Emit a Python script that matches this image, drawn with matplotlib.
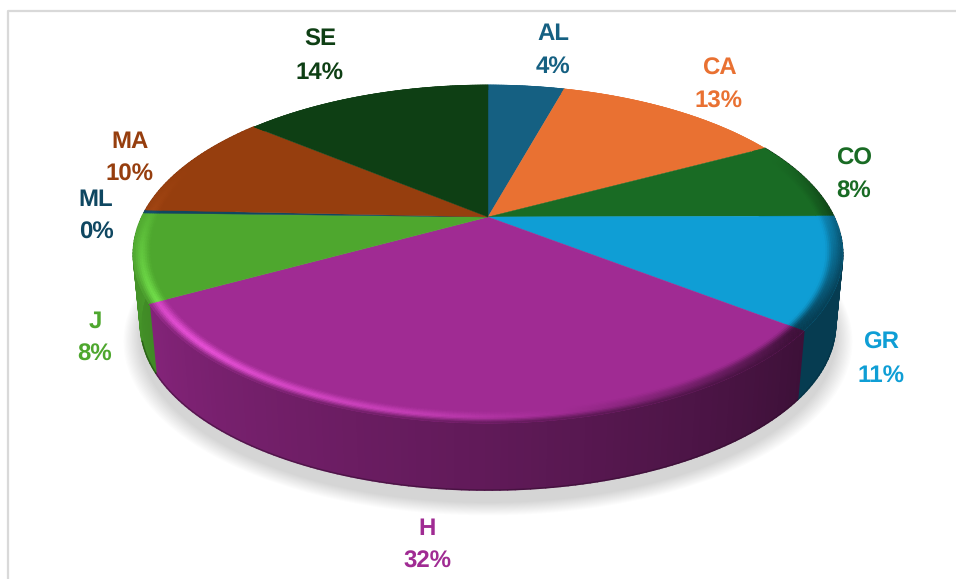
import numpy as np
import matplotlib
matplotlib.use("Agg")
import matplotlib.pyplot as plt
from matplotlib.collections import PolyCollection
from matplotlib.colors import to_rgb
from matplotlib.patches import Polygon

plt.rcParams["text.hinting"] = "no_hinting"
plt.rcParams["text.hinting_factor"] = 1

names = ["AL", "CA", "CO", "GR", "H", "J", "ML", "MA", "SE"]
values = [4.3, 12.9, 7.7, 10.6, 31.5, 8.4, 0.3, 10.3, 14.0]
percents = [4, 13, 8, 11, 32, 8, 0, 10, 14]
colors = ["#156082", "#E97132", "#196B24", "#0F9ED5", "#A02B93",
          "#4EA72E", "#0F4761", "#963E0E", "#0E3F14"]
label_x = [553, 719, 854, 881, 427, 95, 96, 130, 320]
label_y = [33.5, 68.5, 158.5, 342.5, 528.5, 321.5, 199.5, 141.5, 39.5]

# perspective of the pie disc, in image pixels
cx, cy = 488, 217
A, B, k = 346, 161, 0.219
shrink, bottom_y = 0.98, 288


def top(theta, r=1.0):
    u = r * np.sin(theta)
    v = r * np.cos(theta)
    d = 1 + k * v
    return np.column_stack([cx + A * u / d, cy - B * v / d])


def bottom(theta):
    u = np.sin(theta)
    v = np.cos(theta)
    d = 1 + k * v
    return np.column_stack([cx + shrink * A * u / d, bottom_y - shrink * B * v / d])


def side_shade(theta):
    return np.interp(np.degrees(theta), [90, 128, 180, 243, 270], [0.38, 0.38, 0.6, 0.83, 0.92])


def rim_light(theta):
    return np.interp(np.degrees(theta), [100, 130, 170, 190, 225, 260, 290],
                     [-0.8, -0.9, 0, 0.5, 1, 0.7, 0.2])


fig = plt.figure(figsize=(9.56, 5.79), dpi=100)
ax = fig.add_axes([0, 0, 1, 1])
ax.set_xlim(0, 956)
ax.set_ylim(579, 0)
ax.axis("off")

# chart frame
ax.plot([8, 8, 956], [579, 11, 11], color="#d9d9d9", lw=1.6)

# soft shadow
all_t = np.linspace(0, 2 * np.pi, 240)
base = bottom(all_t)
for i in range(14):
    grow = 1 + (14 - i) * 0.0035
    pts = np.column_stack([cx + (base[:, 0] - cx) * grow,
                           cy + 12 + (base[:, 1] - cy) * grow])
    ax.add_patch(Polygon(pts, closed=True, fc="black", ec="none", alpha=0.011, zorder=1))

edges = np.cumsum([0] + values) / sum(values) * 2 * np.pi

# outer wall
for i, c in enumerate(colors):
    t = np.linspace(edges[i], edges[i + 1], max(3, int(np.degrees(edges[i + 1] - edges[i]))))
    if np.cos(t).min() > 0.05:
        continue
    p1 = top(t)
    p2 = bottom(t)
    quads = []
    cols = []
    rgb = np.array(to_rgb(c))
    for j in range(len(t) - 1):
        quads.append([p1[j], p1[j + 1], p2[j + 1], p2[j]])
        cols.append(rgb * side_shade((t[j] + t[j + 1]) / 2))
    ax.add_collection(PolyCollection(quads, facecolors=cols, edgecolors=cols, linewidths=1.2, zorder=2))
    # darker line on the visible part of the lower edge
    seen = np.cos(t) < -0.3
    ax.plot(p2[seen, 0], p2[seen, 1], color=rgb * 0.3, lw=1.0, alpha=0.5, zorder=2.5)

# top faces with bevel along the rim
radii = np.linspace(0.95, 1.0, 11)
for i, c in enumerate(colors):
    t = np.linspace(edges[i], edges[i + 1], max(3, int(np.degrees(edges[i + 1] - edges[i])) * 2))
    arc = top(t)
    ax.add_patch(Polygon(np.vstack([[cx, cy], arc]), closed=True, fc=c, ec=c, lw=0.3, zorder=3))
    rgb = np.array(to_rgb(c))
    quads = []
    cols = []
    for j in range(len(t) - 1):
        mid = (t[j] + t[j + 1]) / 2
        strength = np.clip(0.4 - np.cos(mid), 0, 1)
        light = rim_light(mid)
        if light > 0:
            hl = rgb * (1 + 0.3 * light) + 0.1 * light
        else:
            hl = rgb * (1 + 0.65 * light)
        wall = rgb * side_shade(mid)
        for m in range(len(radii) - 1):
            q = (m + 0.5) / (len(radii) - 1)
            w = np.sin(np.pi * min(q / 0.6, 1) / 2) ** 2
            col = rgb + (hl - rgb) * w * strength
            if q > 0.6:
                col = col + (wall - col) * ((q - 0.6) / 0.4) * strength
            a = top(np.array([t[j], t[j + 1]]), radii[m])
            b = top(np.array([t[j], t[j + 1]]), radii[m + 1])
            quads.append([a[0], a[1], b[1], b[0]])
            cols.append(np.clip(col, 0, 1))
    ax.add_collection(PolyCollection(quads, facecolors=cols, edgecolors=cols, linewidths=0.4, zorder=4))

# data labels
for name, pct, c, x, y in zip(names, percents, colors, label_x, label_y):
    ax.text(x, y, name, color=c, fontsize=17.3, fontweight="bold", family="Liberation Sans",
            ha="center", va="center", zorder=6)
    ax.text(x, y + 33, "%d%%" % pct, color=c, fontsize=17.3, fontweight="bold",
            family="Liberation Sans", ha="center", va="center", zorder=6)

fig.savefig("out.png", dpi=100, facecolor="white")
